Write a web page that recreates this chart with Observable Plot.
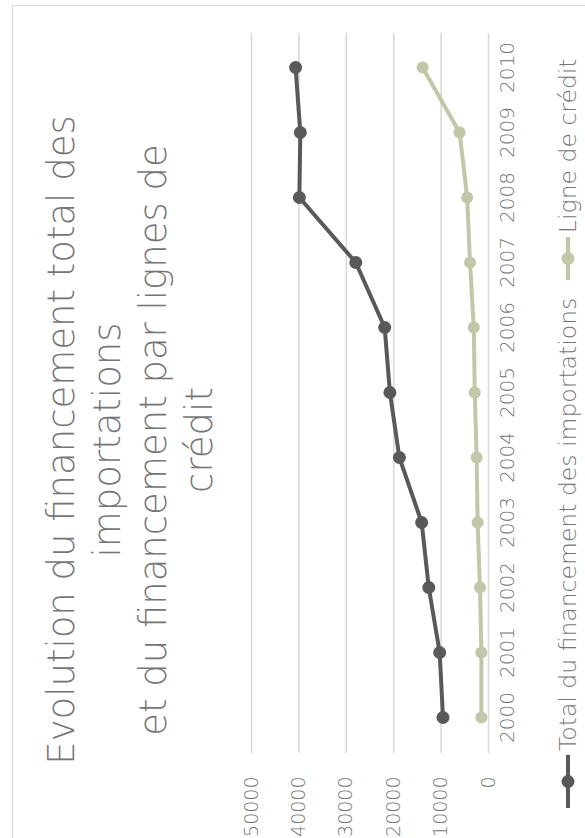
<!DOCTYPE html>
<html>
<head>
<meta charset="utf-8">
<script src="https://cdn.jsdelivr.net/npm/d3@7"></script>
<script src="https://cdn.jsdelivr.net/npm/@observablehq/plot@0.6"></script>
<style>
  html, body { margin: 0; padding: 0; background: #fff; }
  body { width: 585px; height: 838px; overflow: hidden; position: relative; }
  #frame {
    position: absolute; left: 0; top: 0; width: 838px; height: 585px;
    transform-origin: 0 0; transform: translate(0px, 838px) rotate(-90deg);
    font-family: "DejaVu Sans", sans-serif; font-weight: 200; color: #7f7f7f;
  }
  #box {
    position: absolute; left: -10px; top: 12px; width: 843px; height: 600px;
    border-top: 1.5px solid #dcdcdc; border-right: 1.5px solid #dcdcdc; box-sizing: border-box;
  }
  #title {
    position: absolute; left: 18px; top: 39px; width: 760px;
    text-align: center; font-size: 37px; line-height: 46px; white-space: nowrap; color: #767676;
  }
  #chart { position: absolute; left: 0; top: 220px; }
  .leg { position: absolute; top: 553px; height: 30px; display: flex; align-items: center;
         font-size: 23.5px; white-space: nowrap; color: #767676; }
  .leg svg { display: block; margin-right: 4px; }
</style>
</head>
<body>
<div id="frame">
  <div id="box"></div>
  <div id="title">Evolution du financement total des<br>importations<br>et du financement par lignes de<br>crédit</div>
  <div id="chart"></div>
  <div class="leg" id="leg1" style="left:30px"></div>
  <div class="leg" id="leg2" style="left:558px"></div>
</div>
<script>
const years = [2000, 2001, 2002, 2003, 2004, 2005, 2006, 2007, 2008, 2009, 2010];
const totalImports = [9600, 10300, 12600, 14100, 18800, 20800, 21900, 28000, 39900, 39700, 40700];
const creditLines = [1500, 1500, 1800, 2300, 2500, 2900, 3100, 3900, 4500, 6100, 13900];
const valueTicks = [0, 10000, 20000, 30000, 40000, 50000];
const seriesNames = ["Total du financement des importations", "Ligne de crédit"];
const seriesColors = ["#595959", "#c2c7a9"];

const totalData = years.map((y, i) => ({year: y, value: totalImports[i]}));
const creditData = years.map((y, i) => ({year: y, value: creditLines[i]}));

const chart = Plot.plot({
  width: 838, height: 320,
  marginLeft: 85, marginRight: 33, marginTop: 31, marginBottom: 52,
  style: {fontFamily: "DejaVu Sans, sans-serif", fontWeight: 200, fontSize: "20px", color: "#737373", background: "transparent"},
  x: {type: "point", domain: years, padding: 0.5, label: null},
  y: {domain: [0, 50000], label: null},
  marks: [
    Plot.gridY(valueTicks, {stroke: "#d9d9d9", strokeOpacity: 1, strokeWidth: 1.6}),
    Plot.axisX({tickSize: 0, tickPadding: 11, tickFormat: d => String(d), fontSize: 20}),
    Plot.axisY(valueTicks, {tickSize: 0, tickPadding: 24, tickFormat: d => String(d), fontSize: 19}),
    Plot.line(creditData, {x: "year", y: "value", stroke: seriesColors[1], strokeWidth: 4}),
    Plot.dot(creditData, {x: "year", y: "value", r: 6, fill: seriesColors[1], stroke: null}),
    Plot.line(totalData, {x: "year", y: "value", stroke: seriesColors[0], strokeWidth: 4}),
    Plot.dot(totalData, {x: "year", y: "value", r: 6.5, fill: seriesColors[0], stroke: null})
  ]
});
document.getElementById("chart").appendChild(chart);

function legendItem(id, name, color, w) {
  const el = document.getElementById(id);
  const ns = "http://www.w3.org/2000/svg";
  const svg = document.createElementNS(ns, "svg");
  svg.setAttribute("width", w); svg.setAttribute("height", 20);
  const ln = document.createElementNS(ns, "line");
  ln.setAttribute("x1", 0); ln.setAttribute("x2", w); ln.setAttribute("y1", 10); ln.setAttribute("y2", 10);
  ln.setAttribute("stroke", color); ln.setAttribute("stroke-width", 4);
  const c = document.createElementNS(ns, "circle");
  c.setAttribute("cx", w / 2); c.setAttribute("cy", 10); c.setAttribute("r", 6.5); c.setAttribute("fill", color);
  svg.appendChild(ln); svg.appendChild(c);
  el.appendChild(svg);
  const sp = document.createElement("span"); sp.textContent = name; el.appendChild(sp);
}
legendItem("leg1", seriesNames[0], seriesColors[0], 53);
legendItem("leg2", seriesNames[1], seriesColors[1], 43);
</script>
</body>
</html>
